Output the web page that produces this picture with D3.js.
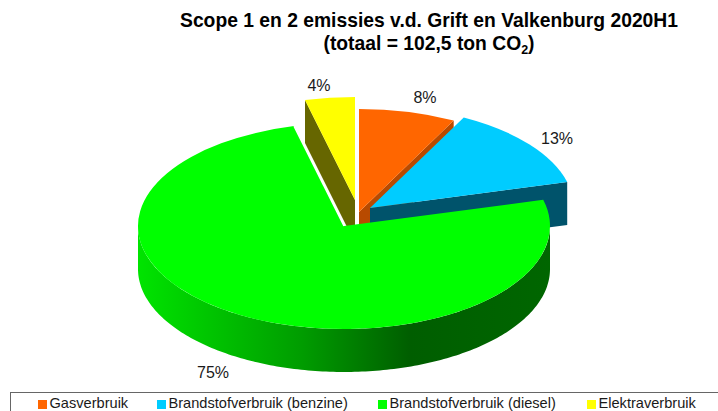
<!DOCTYPE html>
<html>
<head>
<meta charset="utf-8">
<script src="https://cdn.jsdelivr.net/npm/d3@7/dist/d3.min.js"></script>
<style>
  body { margin: 0; background: #fff; overflow: hidden; }
  text { font-family: "Liberation Sans", Arial, sans-serif; fill: #1a1a1a; }
</style>
</head>
<body>
<div id="chart"></div>
<script>
// the data
var categories = ["Gasverbruik", "Brandstofverbruik (benzine)", "Brandstofverbruik (diesel)", "Elektraverbruik"];
var values = [7.6, 13.3, 75.2, 3.9];
var labels = ["8%", "13%", "75%", "4%"];
var topColors = ["#ff6600", "#00ccff", "#00ff00", "#ffff00"];
var sideColors = ["#b84a00", "#00536b", "#006000", "#666600"];

// layout of the tilted pie
var width = 718, height = 411;
var center = {x: 344, y: 226}, rx = 206, ry = 103, depth = 43;
var explode = [[15, -14], [26, -18], [0, 0], [11, -26]];   // shift of each slice
var radiusScale = [1, 0.99, 1, 1];
var labelPos = [[425, 103], [557, 144], [213, 378], [319, 91]];
var legendSwatchX = [38, 157, 378, 587];

var svg = d3.select("#chart").append("svg")
    .attr("width", width)
    .attr("height", height);

// gradient on the rim of the big slice
var grad = svg.append("defs").append("linearGradient")
    .attr("id", "rim")
    .attr("gradientUnits", "userSpaceOnUse")
    .attr("x1", center.x - rx).attr("x2", center.x + rx)
    .attr("y1", 0).attr("y2", 0);
[[0, "#00e400"], [0.4, "#009c00"], [0.66, "#005e00"], [1, "#006600"]].forEach(function(s) {
    grad.append("stop").attr("offset", s[0]).attr("stop-color", s[1]);
});

var slices = d3.pie().sort(null).value(function(d) { return d; })(values);
var arc = d3.arc().innerRadius(0).outerRadius(function(d) { return rx * radiusScale[d.index]; });
var line = d3.line();

// point on the tilted ellipse of slice i
function pt(i, a, down) {
    return [center.x + explode[i][0] + rx * radiusScale[i] * Math.sin(a),
            center.y + explode[i][1] - ry * radiusScale[i] * Math.cos(a) + (down || 0)];
}
function apex(i, down) {
    return [center.x + explode[i][0], center.y + explode[i][1] + (down || 0)];
}

// vertical cut face of a slice along the angle a
function drawFace(i, a) {
    svg.append("path")
        .attr("d", line([apex(i), pt(i, a), pt(i, a, depth), apex(i, depth)]) + "Z")
        .attr("fill", sideColors[i]);
}

function drawTop(i) {
    svg.append("path")
        .attr("transform", "translate(" + apex(i) + ") scale(1," + (ry / rx) + ")")
        .attr("d", arc(slices[i]))
        .attr("fill", topColors[i]);
}

// back to front: elektra, gas, benzine, diesel
drawFace(3, slices[3].startAngle);
drawTop(3);
drawFace(0, slices[0].endAngle);
drawTop(0);
drawFace(1, slices[1].endAngle);
drawTop(1);

// rim of the diesel slice, only the half which looks at us
var rimAngles = d3.range(0, 181).map(function(d) { return (90 + d) * Math.PI / 180; });
var rimTop = rimAngles.map(function(a) { return pt(2, a); });
var rimBottom = rimAngles.map(function(a) { return pt(2, a, depth); }).reverse();
svg.append("path")
    .attr("d", line(rimTop.concat(rimBottom)) + "Z")
    .attr("fill", "url(#rim)");
drawTop(2);

// thin white line between diesel and the elektra side
svg.append("path")
    .attr("d", line([apex(2), pt(2, slices[2].endAngle)]))
    .attr("stroke", "#fff")
    .attr("stroke-width", 1.5)
    .attr("fill", "none");

// percent labels
svg.selectAll("text.pct")
    .data(labels)
    .enter().append("text")
    .attr("class", "pct")
    .attr("x", function(d, i) { return labelPos[i][0]; })
    .attr("y", function(d, i) { return labelPos[i][1]; })
    .attr("text-anchor", "middle")
    .style("font-size", "16px")
    .text(function(d) { return d; });

// title
svg.append("text")
    .attr("x", 429).attr("y", 27)
    .attr("text-anchor", "middle")
    .style("font-size", "19.3px").style("font-weight", "bold").style("fill", "#000")
    .text("Scope 1 en 2 emissies v.d. Grift en Valkenburg 2020H1");
var sub = svg.append("text")
    .attr("x", 429).attr("y", 50)
    .attr("text-anchor", "middle")
    .style("font-size", "19.3px").style("font-weight", "bold").style("fill", "#000");
sub.append("tspan").text("(totaal = 102,5 ton CO");
sub.append("tspan").attr("dy", 4).style("font-size", "12.5px").text("2");
sub.append("tspan").attr("dy", -4).text(")");

// legend, the frame runs off the picture
svg.append("rect")
    .attr("x", 10.5).attr("y", 392.5)
    .attr("width", 730).attr("height", 40)
    .attr("fill", "#fff").attr("stroke", "#666");

var legend = svg.selectAll("g.legend")
    .data(categories)
    .enter().append("g")
    .attr("class", "legend")
    .attr("transform", function(d, i) { return "translate(" + legendSwatchX[i] + ",400)"; });
legend.append("rect")
    .attr("width", 9).attr("height", 9)
    .attr("fill", function(d, i) { return topColors[i]; });
legend.append("text")
    .attr("x", 11.5).attr("y", 8)
    .style("font-size", "14.6px")
    .text(function(d) { return d; });
</script>
</body>
</html>
